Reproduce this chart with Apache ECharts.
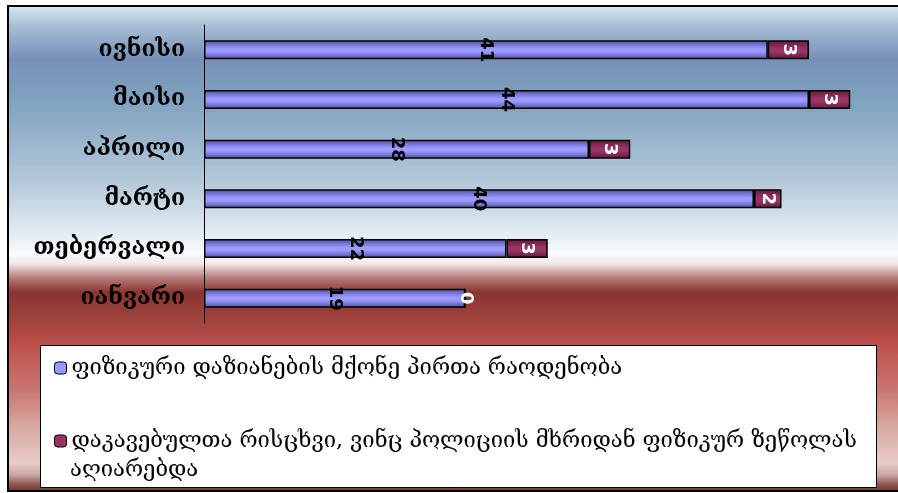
<!DOCTYPE html>
<html>
<head>
<meta charset="utf-8">
<script src="https://cdn.jsdelivr.net/npm/echarts@6/dist/echarts.min.js"></script>
<style>
  html, body { margin: 0; padding: 0; background: #ffffff; }
  #chart { width: 898px; height: 493px; }
</style>
</head>
<body>
<div id="chart"></div>
<script>
// Months, listed bottom to top on the category axis
const months = ['იანვარი', 'თებერვალი', 'მარტი', 'აპრილი', 'მაისი', 'ივნისი'];

// Persons with physical injuries
const injuredName = 'ფიზიკური დაზიანების მქონე პირთა რაოდენობა';
const injured = [19, 22, 40, 28, 44, 41];

// Detainees who reported physical pressure from the police
const pressureName = 'დაკავებულთა რისცხვი, ვინც პოლიციის მხრიდან ფიზიკურ ზეწოლას აღიარებდა';
const pressure = [0, 3, 2, 3, 3, 3];

const TEXT_FONT = '"DejaVu Serif", serif';
const NUM_FONT = '"DejaVu Sans", sans-serif';

// The long legend entry wraps onto a second line inside the legend box
const pressureWrapAt = pressureName.lastIndexOf(' ');
const pressureLine1 = pressureName.slice(0, pressureWrapAt);
const pressureLine2 = pressureName.slice(pressureWrapAt + 1);

function barGradient(edge, mid) {
  return new echarts.graphic.LinearGradient(0, 0, 0, 1, [
    { offset: 0, color: edge },
    { offset: 0.45, color: mid },
    { offset: 0.6, color: mid },
    { offset: 1, color: edge }
  ]);
}

const chart = echarts.init(document.getElementById('chart'), null, { renderer: 'canvas' });

const option = {
  backgroundColor: '#ffffff',
  animation: false,
  graphic: [
    {
      type: 'rect',
      z: -10,
      silent: true,
      shape: { x: 8, y: 6, width: 900, height: 485 },
      style: {
        fill: new echarts.graphic.LinearGradient(0, 0, 0, 1, [
          { offset: 0.00, color: '#dde9f2' },
          { offset: 0.04, color: '#a9c1d6' },
          { offset: 0.11, color: '#7790b8' },
          { offset: 0.20, color: '#80a3bf' },
          { offset: 0.36, color: '#b3c7d9' },
          { offset: 0.47, color: '#e4ecf3' },
          { offset: 0.51, color: '#f8fafc' },
          { offset: 0.53, color: '#f3eaea' },
          { offset: 0.56, color: '#b57c7a' },
          { offset: 0.59, color: '#8a3531' },
          { offset: 0.65, color: '#a1433e' },
          { offset: 0.70, color: '#bf514c' },
          { offset: 0.79, color: '#c97671' },
          { offset: 0.87, color: '#d9aaa4' },
          { offset: 0.94, color: '#e8cdc8' },
          { offset: 0.965, color: '#c9a6a2' },
          { offset: 0.985, color: '#8a5450' },
          { offset: 1.00, color: '#6a3431' }
        ]),
        stroke: '#000000',
        lineWidth: 2
      }
    },
    {
      type: 'rect',
      z: -5,
      silent: true,
      shape: { x: 40.5, y: 345.5, width: 836, height: 142 },
      style: { fill: '#ffffff', stroke: '#000000', lineWidth: 1 }
    },
    {
      type: 'text',
      silent: true,
      x: 70,
      y: 470,
      style: {
        text: pressureLine2,
        font: '22px ' + TEXT_FONT,
        fill: '#000000',
        verticalAlign: 'middle',
        align: 'left'
      }
    }
  ],
  legend: [
    {
      left: 49,
      top: 352,
      orient: 'vertical',
      itemWidth: 12,
      itemHeight: 12,
      itemGap: 8,
      selectedMode: false,
      textStyle: { fontFamily: TEXT_FONT, fontSize: 22, color: '#000000' },
      data: [{ name: injuredName, itemStyle: { color: '#9999ff', borderColor: '#000000', borderWidth: 1 } }]
    },
    {
      left: 49,
      top: 425,
      orient: 'vertical',
      itemWidth: 12,
      itemHeight: 12,
      selectedMode: false,
      formatter: function () { return pressureLine1; },
      textStyle: { fontFamily: TEXT_FONT, fontSize: 22, color: '#000000' },
      data: [{ name: pressureName, itemStyle: { color: '#993366', borderColor: '#000000', borderWidth: 1 } }]
    }
  ],
  grid: { left: 204, top: 25, width: 687.5, height: 298, containLabel: false },
  xAxis: {
    type: 'value',
    min: 0,
    max: 50,
    show: false
  },
  yAxis: {
    type: 'category',
    data: months,
    axisLine: { show: true, lineStyle: { color: '#000000', width: 1 } },
    axisTick: { show: false },
    axisLabel: { fontFamily: TEXT_FONT, fontSize: 23, fontWeight: 'bold', color: '#000000', margin: 19 },
    splitLine: { show: false }
  },
  series: [
    {
      name: injuredName,
      type: 'bar',
      stack: 'total',
      barWidth: 19,
      data: injured,
      itemStyle: { color: barGradient('#4f4fa3', '#9a9aff'), borderColor: '#000000', borderWidth: 1.5 },
      label: {
        show: true,
        position: 'inside',
        rotate: -90,
        fontFamily: NUM_FONT,
        fontSize: 18,
        fontWeight: 'bold',
        color: '#000000'
      }
    },
    {
      name: pressureName,
      type: 'bar',
      stack: 'total',
      barWidth: 19,
      data: pressure,
      itemStyle: { color: barGradient('#5e1a3b', '#9a3467'), borderColor: '#000000', borderWidth: 1.5 },
      label: {
        show: true,
        position: 'inside',
        rotate: -90,
        fontFamily: NUM_FONT,
        fontSize: 18,
        fontWeight: 'bold',
        color: '#ffffff'
      }
    }
  ]
};

chart.setOption(option);
</script>
</body>
</html>
